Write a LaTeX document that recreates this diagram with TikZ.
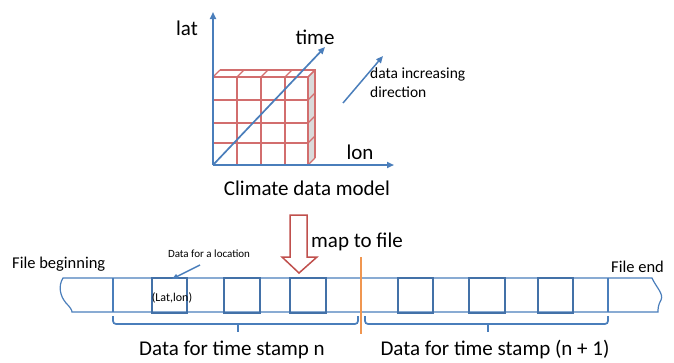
\documentclass[tikz,border=0pt]{standalone}
\usepackage{fontspec}
\setmainfont{Carlito}
\usetikzlibrary{arrows.meta, positioning}
\definecolor{axblue}{RGB}{74,126,187}
\definecolor{gridred}{RGB}{210,110,110}
\definecolor{maproute}{RGB}{192,80,77}
\definecolor{cutorange}{RGB}{240,150,80}
\definecolor{sidegray}{RGB}{218,218,218}

\begin{document}
\begin{tikzpicture}[x=1pt, y=-1pt,
  axis/.style={draw=axblue, line width=1.7pt, -{Triangle[length=7pt,width=6pt]}},
  cube/.style={draw=gridred, line width=1.2pt},
  strip/.style={draw=axblue, line width=1.2pt},
  raised/.style={draw=axblue!90!black, line width=1.4pt},
  bigtxt/.style={font=\fontsize{21}{24}\selectfont, inner sep=0pt},
  midtxt/.style={font=\fontsize{16.5}{19}\selectfont, inner sep=0pt},
  smalltxt/.style={font=\fontsize{15.5}{19}\selectfont, inner sep=0pt},
  tinytxt/.style={font=\fontsize{11}{13}\selectfont, inner sep=0pt},
  span/.style={draw=axblue, line width=1.7pt, rounded corners=3pt}]

  \useasboundingbox (0,0) rectangle (674,362);

  % climate data model
  \coordinate (origin) at (213,165);
  \coordinate (latend) at (213,12);
  \coordinate (lonend) at (394,165);
  \coordinate (timeend) at (325,47);

  \fill[sidegray] (308,77) -- (315,70) -- (315,158) -- (308,165) -- cycle;
  \foreach \x in {213,237,261,285,308} {
    \draw[cube] (\x,77) -- (\x,165);
    \draw[cube] (\x,77) -- ++(7,-7);
  }
  \foreach \y in {77,100,123,143,165} {
    \draw[cube] (213,\y) -- (308,\y);
    \draw[cube] (308,\y) -- ++(7,-7);
  }
  \draw[cube] (220,70) -- (315,70) -- (315,158);

  \draw[axis] (origin) -- (latend);
  \draw[axis] (origin) -- (lonend);
  \draw[axis] (origin) -- (timeend);

  \node[bigtxt] (lat) at (187,28) {lat};
  \node[bigtxt] (time) at (315,37) {time};
  \node[bigtxt] (lon) at (360,152) {lon};
  \node[bigtxt] (model) at (307,188) {Climate data model};

  \coordinate (dirstart) at (343,103);
  \coordinate (dirend) at (383,56);
  \draw[axis, line width=1.5pt] (dirstart) -- (dirend);
  \node[smalltxt, anchor=west, align=left] (dirtxt) at (370,83)
    {data increasing\\direction};

  % mapping arrow
  \coordinate (maptip) at (299,273);
  \draw[draw=maproute, line width=1.5pt, fill=white]
    (maptip) -- (282,257) -- (290,257) -- (290,215) -- (307,215)
    -- (307,257) -- (317,257) -- cycle;
  \node[bigtxt, anchor=west] (maptxt) at (311,242) {map to file};

  % file strip
  \draw[strip] (608,278) -- (63,278)
    .. controls (58,286) and (60,296) .. (66,303)
    .. controls (70,307) and (72,310) .. (72,312) -- (608,312);
  \draw[strip] (608,278) -- (652,278)
    .. controls (656,287) and (664,294) .. (661,300)
    .. controls (658,305) and (658,309) .. (658,312) -- (608,312);
  \foreach \x in {113,152,187,224,260,290,326,398,433,469,505,538,573,608}
    \draw[strip] (\x,278) -- (\x,312);
  \foreach \x/\w in {152/35,224/36,290/36,398/35,469/36,538/35}
    \draw[raised] (\x,278) rectangle ++(\w,35);

  \draw[cutorange, line width=1.2pt] (361,257) -- (361,334);

  \node[midtxt, anchor=west] (fbegin) at (12,264) {File beginning};
  \node[midtxt, anchor=west] (fend) at (611,267) {File end};
  \node[tinytxt, font=\fontsize{12}{14}\selectfont] (celltxt) at (172,298) {(Lat,lon)};
  \node[tinytxt] (loctxt) at (209,254) {Data for a location};
  \coordinate (locpoint) at (172,279);
  \draw[draw=axblue, line width=1.4pt, -{Triangle[length=6pt,width=5pt]}]
    (200,265) -- (locpoint);

  % time stamps
  \coordinate (nleft) at (113,316);
  \coordinate (nright) at (358,316);
  \coordinate (nmid) at (238,324);
  \coordinate (mleft) at (365,316);
  \coordinate (mright) at (608,316);
  \coordinate (mmid) at (488,324);
  \draw[span] (nleft) |- (nmid) -| (nright);
  \draw[span] (mleft) |- (mmid) -| (mright);
  \draw[axblue, line width=1.7pt] (nmid) -- ++(0,8);
  \draw[axblue, line width=1.7pt] (mmid) -- ++(0,8);
  \node[bigtxt] (stampn) at (232,350) {Data for time stamp n};
  \node[bigtxt] (stampm) at (495,350) {Data for time stamp (n + 1)};
\end{tikzpicture}
\end{document}
